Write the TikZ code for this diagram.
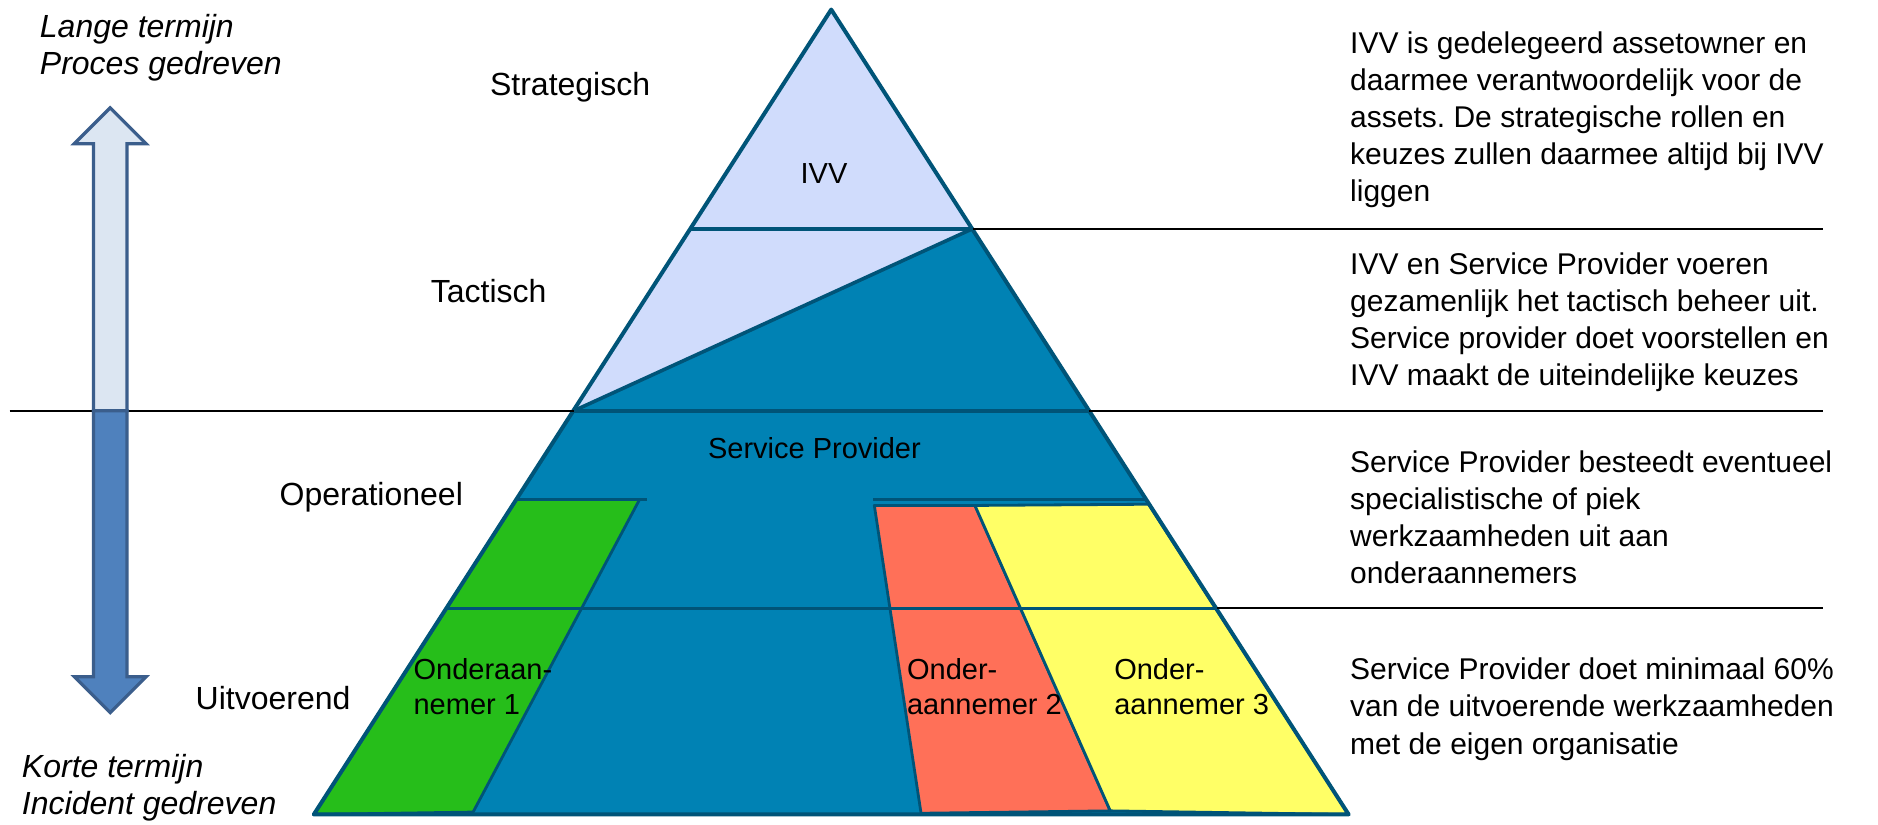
\documentclass[tikz,border=0pt]{standalone}
\usepackage{fontspec}
\setmainfont{Liberation Sans}
\frenchspacing
\definecolor{edgeBlue}{HTML}{005478}
\definecolor{spBlue}{HTML}{0082B4}
\definecolor{ivvBlue}{HTML}{D0DCFC}
\definecolor{greenSub}{HTML}{26BE1A}
\definecolor{redSub}{HTML}{FF7058}
\definecolor{yellowSub}{HTML}{FFFF66}
\definecolor{arrowLight}{HTML}{DCE6F2}
\definecolor{arrowDark}{HTML}{4F81BD}
\definecolor{arrowEdge}{HTML}{3B5E8C}

\begin{document}
\begin{tikzpicture}[
  x=0.59885pt,
  y=-0.59885pt,
  lvl/.style={font=\fontsize{16}{19}\selectfont},
  note/.style={anchor=west, align=left, inner sep=0pt, font=\fontsize{15}{18.6}\selectfont},
  term/.style={anchor=west, align=left, inner sep=0pt, font=\fontsize{16}{18.6}\selectfont\itshape},
  inlabel/.style={font=\fontsize{14.5}{17.5}\selectfont},
  sublabel/.style={inlabel, anchor=west, align=left, inner sep=0pt},
  subshape/.style={draw=edgeBlue, line width=1.4pt, line join=round},
  band/.style={draw=edgeBlue, line width=1.8pt},
  divider/.style={draw=black, line width=1pt},
  arrowpart/.style={draw=arrowEdge, line width=1.6pt, line join=miter}
]
\useasboundingbox (0,0) rectangle (1568,688);

\coordinate (top) at (694,8);
\coordinate (baseL) at (262,680);
\coordinate (baseR) at (1126,680);
\coordinate (stratL) at (576,191);
\coordinate (stratR) at (812,191);
\coordinate (tactL) at (479,343);
\coordinate (tactR) at (909,343);
\coordinate (opL) at (372,508);
\coordinate (opR) at (1016,508);

% piramide
\fill[spBlue] (top) -- (baseR) -- (baseL) -- cycle;
\fill[ivvBlue] (top) -- (stratR) -- (tactL) -- cycle;

\filldraw[subshape, fill=greenSub] (431,417) -- (534,417) -- (395,678) -- (262,680) -- cycle;
\filldraw[subshape, fill=redSub] (730,422) -- (814,422) -- (927,677) -- (769,679) -- cycle;
\filldraw[subshape, fill=yellowSub] (814,422) -- (959,421) -- (1126,680) -- (927,677) -- cycle;
\draw[band] (431,417) -- (540,417);
\draw[band] (729,417) -- (957,417);

\draw[band] (stratL) -- (stratR);
\draw[band] (stratR) -- (tactL);
\draw[band] (tactL) -- (tactR);
\draw[band] (opL) -- (opR);
\draw[band, line width=2pt, line join=round] (top) -- (baseR) -- (baseL) -- cycle;

% scheidingslijnen
\coordinate (endStrat) at (1522,191);
\coordinate (startTact) at (8,343);
\coordinate (endTact) at (1522,343);
\coordinate (endOp) at (1522,508);
\draw[divider] (stratR) -- (endStrat);
\draw[divider] (startTact) -- (tactL);
\draw[divider] (tactR) -- (endTact);
\draw[divider] (opR) -- (endOp);

% pijl
\filldraw[arrowpart, fill=arrowLight] (92,90) -- (122,120) -- (106,120) -- (106,343) -- (78,343) -- (78,120) -- (62,120) -- cycle;
\filldraw[arrowpart, fill=arrowDark] (78,343) -- (106,343) -- (106,565) -- (122,565) -- (92,595) -- (62,565) -- (78,565) -- cycle;

\node[term] (lang) at (33,40) {Lange termijn\\Proces gedreven};
\node[term] (kort) at (18,658) {Korte termijn\\Incident gedreven};

\node[lvl] (strat) at (476,73) {Strategisch};
\node[lvl] (tact) at (408,243) {Tactisch};
\node[lvl] (oper) at (310,415) {Operationeel};
\node[lvl] (uitv) at (228,583) {Uitvoerend};

\node[inlabel] (ivv) at (688,145) {IVV};
\node[inlabel] (sp) at (680,374) {Service Provider};
\node[sublabel] (sub1) at (345,573) {Onderaan-\\nemer 1};
\node[sublabel] (sub2) at (757,573) {Onder-\\aannemer 2};
\node[sublabel] (sub3) at (930,573) {Onder-\\aannemer 3};

\node[note] (noteStrat) at (1127,100) {IVV is gedelegeerd assetowner en\\daarmee verantwoordelijk voor de\\assets. De strategische rollen en\\keuzes zullen daarmee altijd bij IVV\\liggen};
\node[note] (noteTact) at (1127,269) {IVV en Service Provider voeren\\gezamenlijk het tactisch beheer uit.\\Service provider doet voorstellen en\\IVV maakt de uiteindelijke keuzes};
\node[note] (noteOp) at (1127,432) {Service Provider besteedt eventueel\\specialistische of piek\\werkzaamheden uit aan\\onderaannemers};
\node[note] (noteUitv) at (1127,592) {Service Provider doet minimaal 60\%\\van de uitvoerende werkzaamheden\\met de eigen organisatie};

\end{tikzpicture}
\end{document}
